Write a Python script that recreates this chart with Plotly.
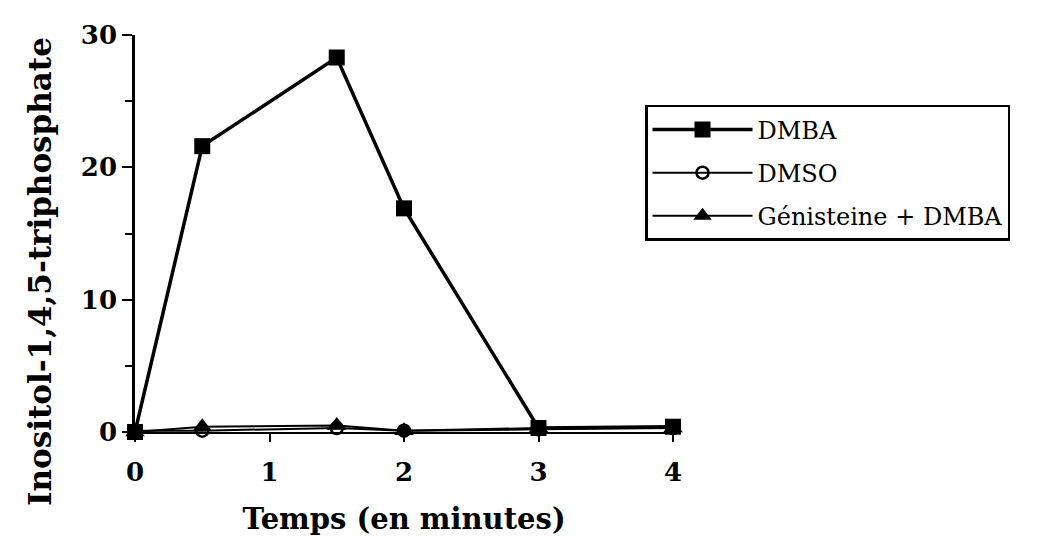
import plotly.graph_objects as go

time_min = [0, 0.5, 1.5, 2, 3, 4]
dmba = [0.0, 21.6, 28.3, 16.9, 0.3, 0.4]
dmso = [0.1, 0.1, 0.3, 0.1, 0.2, 0.3]
genisteine_dmba = [0.0, 0.4, 0.5, 0.1, 0.3, 0.3]

x_ticks = [0, 1, 2, 3, 4]
y_ticks = [0, 10, 20, 30]

serif = "DejaVu Serif, Liberation Serif, serif"

fig = go.Figure()
fig.add_trace(go.Scatter(
    x=time_min, y=dmso, name="DMSO", mode="lines+markers",
    legendgroup="b", legendrank=2,
    line=dict(color="black", width=2),
    marker=dict(symbol="circle-open", size=12, color="black", line=dict(width=2.5)),
    cliponaxis=False,
))
fig.add_trace(go.Scatter(
    x=time_min, y=genisteine_dmba, name="Génisteine + DMBA", mode="lines+markers",
    legendgroup="c", legendrank=3,
    line=dict(color="black", width=2),
    marker=dict(symbol="triangle-up", size=17, color="black"),
    cliponaxis=False,
))
fig.add_trace(go.Scatter(
    x=time_min, y=dmba, name="DMBA", mode="lines+markers",
    legendgroup="a", legendrank=1,
    line=dict(color="black", width=3.5),
    marker=dict(symbol="square", size=16, color="black"),
    cliponaxis=False,
))

fig.update_layout(
    width=1053, height=550,
    margin=dict(l=127, r=388, t=27, b=126, autoexpand=False),
    paper_bgcolor="white", plot_bgcolor="white",
    font=dict(family=serif, color="black"),
    showlegend=True,
    legend=dict(
        x=0.948, y=0.824, xanchor="left", yanchor="top",
        bordercolor="black", borderwidth=2.5, bgcolor="white",
        font=dict(family=serif, size=24, color="black"),
        traceorder="grouped", itemwidth=100,
        tracegroupgap=9,
    ),
    xaxis=dict(
        range=[0, 4], tickvals=x_ticks, ticktext=[str(v) for v in x_ticks],
        showgrid=False, zeroline=False, showline=True, linecolor="black", linewidth=2,
        ticks="outside", ticklen=8, tickwidth=2, tickcolor="black",
        ticklabelstandoff=8,
        tickfont=dict(family=serif, size=26, color="black", weight="bold"),
        title=dict(text="<b>Temps (en minutes)</b>", font=dict(family=serif, size=29), standoff=22),
        automargin=False,
    ),
    yaxis=dict(
        range=[0, 30], tickvals=y_ticks, ticktext=[str(v) for v in y_ticks],
        showgrid=False, zeroline=False, showline=True, linecolor="black", linewidth=2.5,
        ticks="outside", ticklen=10, tickwidth=2, tickcolor="black",
        minor=dict(dtick=5, ticks="outside", ticklen=7, tickwidth=2, tickcolor="black"),
        tickfont=dict(family=serif, size=26, color="black", weight="bold"),
        automargin=False,
    ),
    annotations=[dict(
        text="<b>Inositol-1,4,5-triphosphate</b>",
        xref="paper", yref="paper", x=-0.177, y=0.405,
        xanchor="center", yanchor="middle", textangle=-90, showarrow=False,
        font=dict(family=serif, size=31, color="black"),
    )],
)

fig.write_html("out.html")
